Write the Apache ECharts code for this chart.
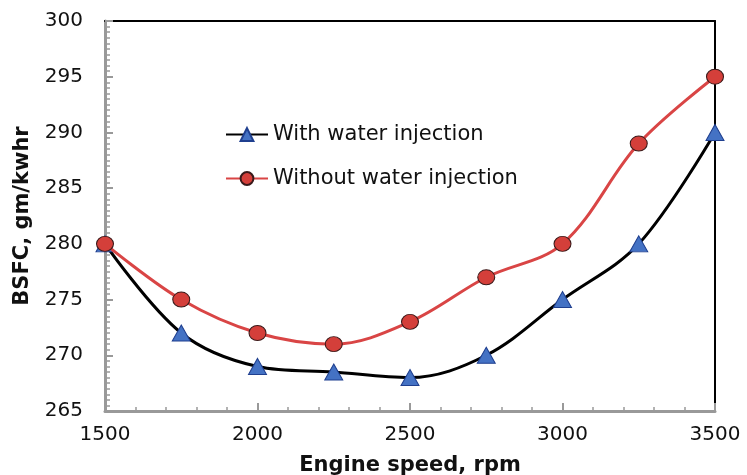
<!DOCTYPE html>
<html>
<head>
<meta charset="utf-8">
<script src="https://cdn.jsdelivr.net/npm/echarts@6/dist/echarts.min.js"></script>
<style>
  html, body { margin: 0; padding: 0; background: #fff; }
  #chart { width: 747px; height: 475px; }
</style>
</head>
<body>
<div id="chart"></div>
<script>
// engine speed, rpm
const speeds = [1500, 1750, 2000, 2250, 2500, 2750, 3000, 3250, 3500]
// BSFC, gm/kwhr
const withWater = [280, 272, 269, 268.5, 268, 270, 275, 280, 290]
const withoutWater = [280, 275, 272, 271, 273, 277, 280, 289, 295]

const font = 'DejaVu Sans, Arial, sans-serif'

const chart = echarts.init(document.getElementById('chart'))

// plain black frame line (top / right)
const frame = {
  type: 'value',
  axisLine: { show: true, onZero: false, lineStyle: { color: '#000', width: 2 } },
  axisTick: { show: false },
  axisLabel: { show: false },
  splitLine: { show: false }
}

chart.setOption({
  animation: false,
  textStyle: { fontFamily: font },
  grid: { left: 105, right: 32, top: 21, bottom: 64, outerBoundsMode: 'none' },
  legend: {
    orient: 'vertical',
    left: 220,
    top: 119,
    itemGap: 23,
    itemWidth: 42,
    itemHeight: 16,
    textStyle: { fontSize: 21, color: '#111', fontFamily: font },
    data: ['With water injection', 'Without water injection']
  },
  xAxis: [{
    type: 'value',
    min: 1500,
    max: 3500,
    interval: 500,
    minorTick: { show: true, splitNumber: 5, length: 4, lineStyle: { color: '#999', width: 1.5 } },
    axisLine: { lineStyle: { color: '#999', width: 3 } },
    axisTick: { inside: true, length: 8, lineStyle: { color: '#999', width: 2 } },
    axisLabel: { color: '#111', fontSize: 20, margin: 14, formatter: v => String(v) },
    splitLine: { show: false },
    name: 'Engine speed, rpm',
    nameLocation: 'middle',
    nameGap: 44,
    nameTextStyle: { fontSize: 21, fontWeight: 'bold', color: '#111' }
  }, Object.assign({ position: 'top', min: 1500, max: 3500 }, frame)],
  yAxis: [{
    type: 'value',
    min: 265,
    max: 300,
    interval: 5,
    minorTick: { show: true, splitNumber: 10, length: 5, lineStyle: { color: '#999', width: 1.5 } },
    axisLine: { show: true, lineStyle: { color: '#999', width: 3 } },
    axisTick: { show: true, inside: true, length: 8, lineStyle: { color: '#999', width: 2 } },
    axisLabel: { color: '#111', fontSize: 20, margin: 22 },
    splitLine: { show: false },
    name: 'BSFC, gm/kwhr',
    nameLocation: 'middle',
    nameGap: 72,
    nameTextStyle: { fontSize: 21, fontWeight: 'bold', color: '#111' }
  }, Object.assign({ position: 'right', min: 265, max: 300 }, frame)],
  series: [
    {
      name: 'With water injection',
      type: 'line',
      smooth: 0.35,
      data: speeds.map((s, i) => [s, withWater[i]]),
      lineStyle: { color: '#000', width: 3 },
      symbol: 'triangle',
      symbolSize: [18, 16],
      itemStyle: { color: '#4472C4', borderColor: '#1F3F8F', borderWidth: 1 },
      z: 3
    },
    {
      name: 'Without water injection',
      type: 'line',
      smooth: 0.35,
      data: speeds.map((s, i) => [s, withoutWater[i]]),
      lineStyle: { color: '#D94545', width: 3 },
      symbol: 'circle',
      symbolSize: [17, 15],
      itemStyle: { color: '#D43F3A', borderColor: '#3a1a1a', borderWidth: 1 },
      z: 4
    }
  ]
})
</script>
</body>
</html>
